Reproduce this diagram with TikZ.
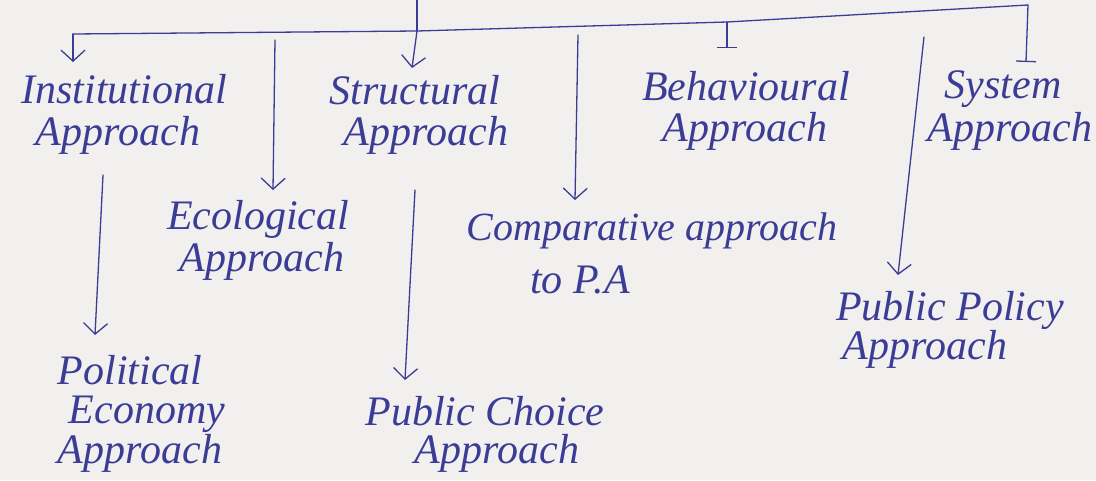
\documentclass[tikz,border=0pt]{standalone}
\usepackage{fontspec}
\setmainfont{Liberation Serif}
\usetikzlibrary{arrows.meta}
\definecolor{ink}{RGB}{58,60,150}
\definecolor{paper}{RGB}{242,240,238}
\tikzset{
  ink line/.style={draw=ink, line width=1.3pt, line cap=round, line join=round},
  arrowline/.style={ink line, -{Straight Barb[length=11pt,width=24pt,line width=1.3pt]}},
  barline/.style={ink line, -{Bar[width=20pt,line width=1.3pt]}},
  hand/.style={text=ink, inner sep=0pt, anchor=base, font=\fontsize{42}{48}\selectfont\itshape}
}
\begin{document}
\begin{tikzpicture}[x=1pt,y=-1pt]
\useasboundingbox[fill=paper] (0,0) rectangle (1096,480);
% top-level labels
\node[hand] (inst1) at (124,103) {Institutional};
\node[hand] (inst2) at (118,145) {Approach};
\node[hand] (str1) at (415,104) {Structural};
\node[hand] (str2) at (426,145) {Approach};
\node[hand] (beh1) at (746,100) {Behavioural};
\node[hand] (beh2) at (745,141) {Approach};
\node[hand] (sys1) at (1003,98) {System};
\node[hand] (sys2) at (1010,141) {Approach};
% lower labels
\node[hand] (eco1) at (258,229) {Ecological};
\node[hand] (eco2) at (262,271) {Approach};
\node[hand] (cmp1) at (652,240) {\fontsize{40}{46}\selectfont Comparative approach};
\node[hand] (cmp2) at (580,293) {to P.A};
\node[hand] (pol1) at (130,384) {Political};
\node[hand] (pol2) at (147,423) {Economy};
\node[hand] (pol3) at (140,463) {Approach};
\node[hand] (pch1) at (485,425) {Public Choice};
\node[hand] (pch2) at (497,463) {Approach};
\node[hand] (ppo1) at (950,320) {Public Policy};
\node[hand] (ppo2) at (925,359) {Approach};
% tree coordinates
\coordinate (top) at (417,0);
\coordinate (j1) at (417,31);
\coordinate (lb) at (73,34);
\coordinate (jb) at (727,22);
\coordinate (jc) at (1028,5);
\coordinate (t1) at (73,62);
\coordinate (t2) at (412,68);
\coordinate (t3) at (727,48);
\coordinate (t4) at (1026,62);
% tree
\draw[ink line] (top) -- (j1);
\draw[ink line] (lb) -- (j1) -- (jb) -- (jc);
\draw[arrowline] (lb) -- (t1);
\draw[arrowline] (j1) -- (t2);
\draw[barline] (jb) -- (t3);
\draw[barline] (jc) -- (t4);
% other arrows
\coordinate (e0) at (275,40);
\coordinate (e1) at (273,190);
\coordinate (c0) at (578,35);
\coordinate (c1) at (575,200);
\coordinate (p0) at (924,37);
\coordinate (p1) at (898,275);
\coordinate (i0) at (103,175);
\coordinate (i1) at (95,335);
\coordinate (s0) at (415,190);
\coordinate (s1) at (405,380);
\draw[arrowline] (e0) -- (e1);
\draw[arrowline] (c0) -- (c1);
\draw[arrowline] (p0) -- (p1);
\draw[arrowline] (i0) -- (i1);
\draw[arrowline] (s0) -- (s1);
\end{tikzpicture}
\end{document}
